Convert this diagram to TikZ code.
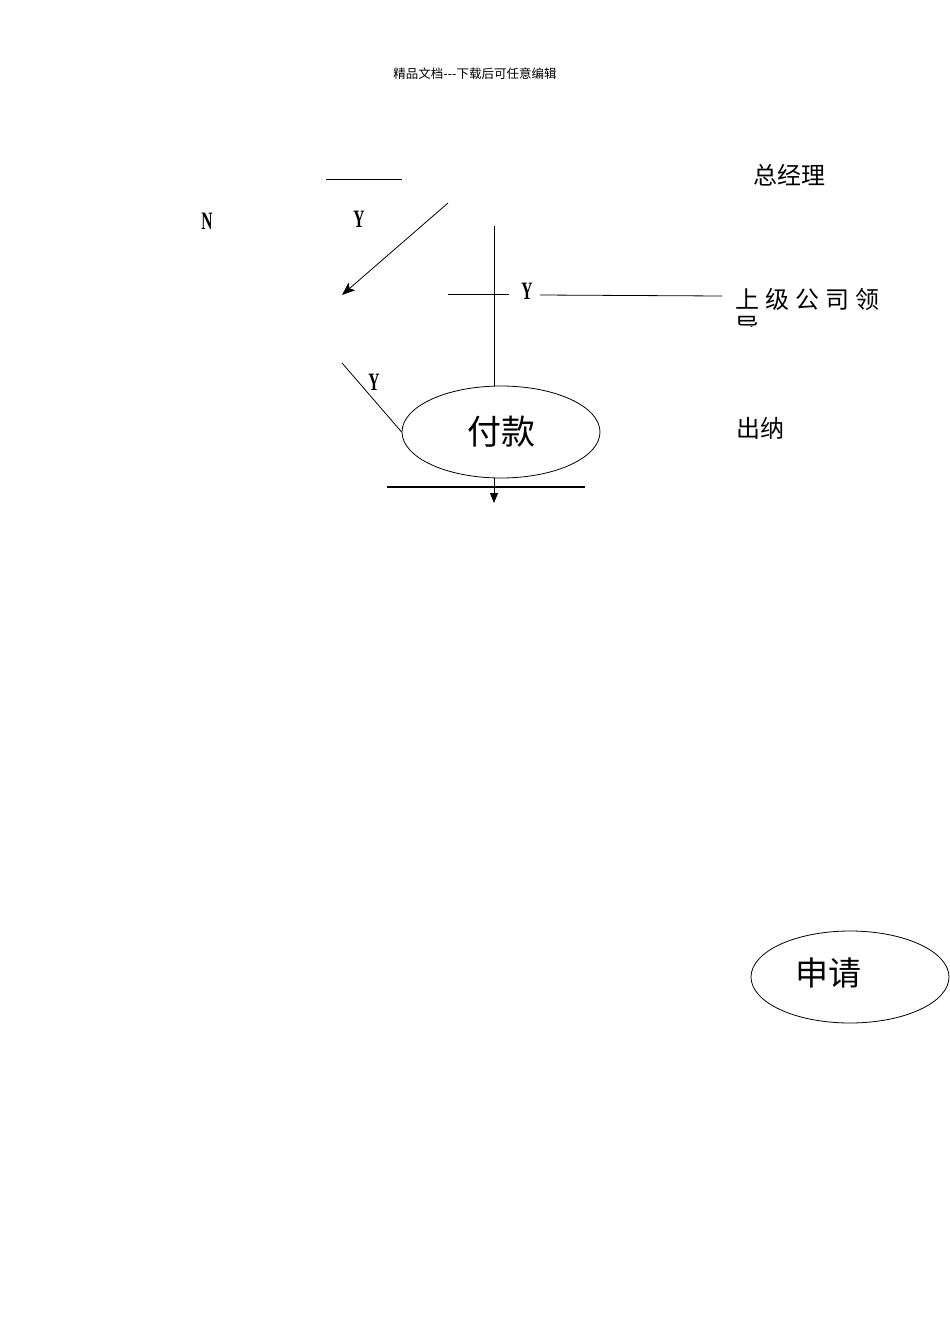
\documentclass[tikz,border=0pt]{standalone}
\usepackage{fontspec}
\setmainfont{Liberation Serif}
\newfontfamily\cjk{Noto Sans CJK SC}
\usepackage{tikz}
\usetikzlibrary{arrows.meta}
\usetikzlibrary{shapes.geometric}
\tikzset{
    tnode/.style = {align=center, inner sep=0pt, text centered},
    yn_text/.style = {tnode, font=\bfseries\fontsize{25}{25}\selectfont, xscale=0.62},
    role_text/.style = {tnode, font=\cjk\fontsize{24}{24}\selectfont},
    head_text/.style = {tnode, font=\cjk\fontsize{12.5}{12.5}\selectfont},
    step_ellipse/.style = {tnode, ellipse, draw=black, line width=0.8pt, minimum width=198pt, minimum height=92pt},
    flow_line/.style = {draw=black, line width=0.8pt},
    bar_line/.style = {draw=black, line width=2.6pt},
    big_tip/.style = {-{Stealth[length=13pt, width=10pt, inset=3pt]}},
    small_tip/.style = {-{Stealth[length=10pt, width=8pt, inset=0pt]}}
}

\begin{document}
\begin{tikzpicture}[x=1pt, y=-1pt]
            \useasboundingbox (0,0) rectangle (950,1344);
            \node [head_text] (page_head) at (475,74) {精品文档---下载后可任意编辑};
            % roles
            \node [role_text] (gm_text) at (789,175) {总经理};
            \begin{scope}
                \clip (700,280) rectangle (900,326);
                \node [role_text, anchor=north west, align=left, font=\cjk\fontsize{24}{27}\selectfont] (leader_text) at (735,288)
                    {上\hspace{6pt}级\hspace{6pt}公\hspace{6pt}司\hspace{6pt}领\\导};
            \end{scope}
            \node [role_text] (cashier_text) at (760,428) {出纳};
            % steps
            \node [step_ellipse, font=\cjk\fontsize{34}{34}\selectfont] (pay_node) at (501,432) {付款};
            \node [step_ellipse, label={[font=\cjk\fontsize{33}{33}\selectfont, xshift=-22pt, yshift=4pt]center:申请}] (apply_node) at (850,977) {};
            % labels
            \node [yn_text] (n_text) at (207,221) {N};
            \node [yn_text] (y_one) at (359,219) {Y};
            \node [yn_text] (y_two) at (527,291) {Y};
            \node [yn_text] (y_three) at (374,382) {Y};
            % lines
            \coordinate (top_left) at (326,179);
            \coordinate (top_right) at (402,179);
            \coordinate (diag_start) at (448,203);
            \coordinate (diag_end) at (342,295);
            \coordinate (vert_top) at (494,226);
            \coordinate (cross_left) at (448,294);
            \coordinate (cross_right) at (509,294);
            \coordinate (lead_left) at (540,295);
            \coordinate (lead_right) at (722,296);
            \coordinate (back_start) at (342,363);
            \coordinate (bar_left) at (387,487);
            \coordinate (bar_right) at (585,487);
            \coordinate (down_end) at (494,503);
            \draw [flow_line] (top_left) -- (top_right);
            \draw [flow_line, big_tip] (diag_start) -- (diag_end);
            \draw [flow_line] (vert_top) -- (vert_top |- pay_node.north);
            \draw [flow_line] (cross_left) -- (cross_right);
            \draw [flow_line] (lead_left) -- (lead_right);
            \draw [flow_line] (back_start) -- (pay_node.west);
            \draw [bar_line] (bar_left) -- (bar_right);
            \draw [flow_line, small_tip] (vert_top |- pay_node.south) -- (down_end);
        \end{tikzpicture}
\end{document}
